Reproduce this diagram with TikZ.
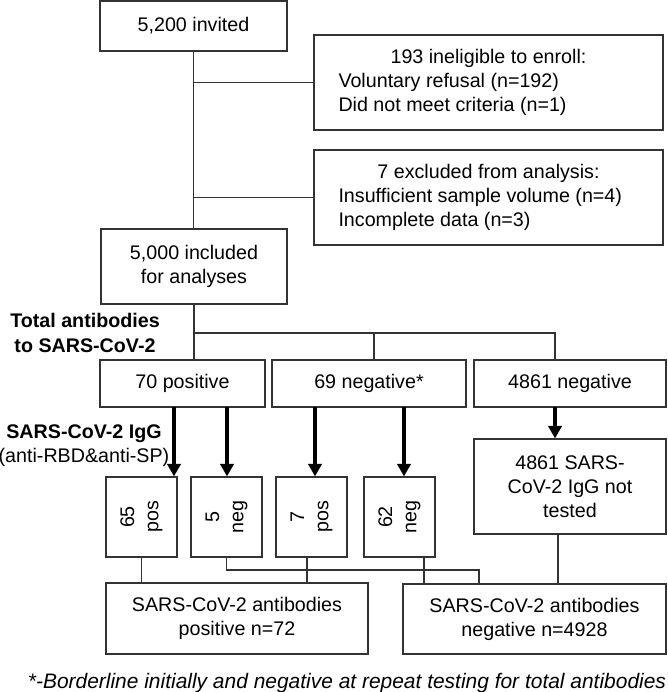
\documentclass[tikz,border=0pt]{standalone}
\usepackage{fontspec}
\setmainfont{Liberation Sans}
\usetikzlibrary{arrows.meta}
\definecolor{linegray}{HTML}{333333}

\tikzset{
  box/.style={draw=linegray, line width=0.8pt, align=center, inner sep=0pt},
  flow/.style={draw=linegray, line width=0.8pt},
  thickarrow/.style={draw=black, line width=2.4pt, -{Triangle[length=9pt,width=9.5pt]}},
  vbox/.style={box, minimum width=1.775cm, minimum height=2cm,
    label={[rotate=90, align=center]center:#1}}
}
\newcommand{\boxline}[1]{\makebox[7.5cm][l]{#1}}

\begin{document}
\begin{tikzpicture}[font=\fontsize{14}{17.2}\selectfont]
\useasboundingbox (0,0) rectangle (16.675,-17.3);

% Define the boxes of the enrolment part
\node[box, minimum width=4.675cm, minimum height=1.25cm] (invited) at (4.8375,-0.65) {5,200 invited};
\node[box, minimum width=8.725cm, minimum height=2.375cm] (inelig) at (12.2125,-2.0625) {193 ineligible to enroll:\\ \boxline{Voluntary refusal (n=192)}\\ \boxline{Did not meet criteria (n=1)}};
\node[box, minimum width=8.725cm, minimum height=2.375cm] (excl) at (12.2125,-4.9375) {7 excluded from analysis:\\ \boxline{Insufficient sample volume (n=4)}\\ \boxline{Incomplete data (n=3)}};
\node[box, minimum width=4.65cm, minimum height=1.875cm] (incl) at (4.85,-6.6625) {5,000 included\\for analyses};

\draw[flow] (invited.south) -- (invited.south |- incl.north);
\draw[flow] (invited.south |- inelig.west) -- (inelig.west);
\draw[flow] (invited.south |- excl.west) -- (excl.west);

% Total antibodies
\node (totlab) at (2.125,-8.325) [align=center] {\textbf{Total antibodies}\\\textbf{to SARS-CoV-2}};
\node[box, minimum width=4.125cm, minimum height=1.175cm] (pos70) at (4.5625,-9.5875) {70 positive};
\node[box, minimum width=4.85cm, minimum height=1.175cm] (neg69) at (9.225,-9.5875) {69 negative*};
\node[box, minimum width=4.8cm, minimum height=1.175cm] (neg4861) at (14.25,-9.5875) {4861 negative};

\coordinate (split) at (4.85,-8.325);
\coordinate (b69) at (9.35,-8.325);
\coordinate (b4861) at (13.875,-8.325);
\draw[flow] (incl.south) -- (incl.south |- pos70.north);
\draw[flow] (split) -- (b4861) -- (b4861 |- neg4861.north);
\draw[flow] (b69) -- (b69 |- neg69.north);

% IgG testing
\node (igglab) at (2.1,-11.15) [align=center] {\textbf{SARS-CoV-2 IgG}\\(anti-RBD\&anti-SP)};
\node[vbox={65\\pos}] (p65) at (3.5375,-12.925) {};
\node[vbox={5\\neg}] (n5) at (5.6625,-12.925) {};
\node[vbox={7\\pos}] (p7) at (7.7875,-12.925) {};
\node[vbox={62\\neg}] (n62) at (9.9875,-12.925) {};
\node[box, minimum width=4.8cm, minimum height=2.375cm] (nottested) at (14.25,-12.1625) {4861 SARS-\\CoV-2 IgG not\\tested};

\coordinate (a65) at (4.35,-10.175);
\coordinate (a5) at (5.675,-10.175);
\coordinate (a7) at (7.875,-10.175);
\coordinate (a62) at (10.1,-10.175);
\coordinate (a4861) at (13.875,-10.175);
\draw[thickarrow] (a65) -- (a65 |- p65.north);
\draw[thickarrow] (a5) -- (a5 |- n5.north);
\draw[thickarrow] (a7) -- (a7 |- p7.north);
\draw[thickarrow] (a62) -- (a62 |- n62.north);
\draw[thickarrow] (a4861) -- (a4861 |- nottested.north);

% Final results
\node[box, minimum width=6.55cm, minimum height=1.775cm] (posall) at (5.925,-15.4625) {SARS-CoV-2 antibodies\\positive n=72};
\node[box, minimum width=6.575cm, minimum height=1.75cm] (negall) at (13.3625,-15.475) {SARS-CoV-2 antibodies\\negative n=4928};

\coordinate (c7) at (7.675,-13.925);
\coordinate (c5) at (11.975,-14.25);
\coordinate (c62) at (10.6,-13.925);
\coordinate (ctest) at (13.95,-13.35);
\draw[flow] (p65.south) -- (p65.south |- posall.north);
\draw[flow] (c7) -- (c7 |- posall.north);
\draw[flow] (n5.south) |- (c5) -- (c5 |- negall.north);
\draw[flow] (c62) -- (c62 |- negall.north);
\draw[flow] (ctest) -- (ctest |- negall.north);

\node (footnote) at (8.675,-17.075) [font=\fontsize{14.9}{17.2}\selectfont\itshape] {*-Borderline initially and negative at repeat testing for total antibodies};
\end{tikzpicture}
\end{document}
